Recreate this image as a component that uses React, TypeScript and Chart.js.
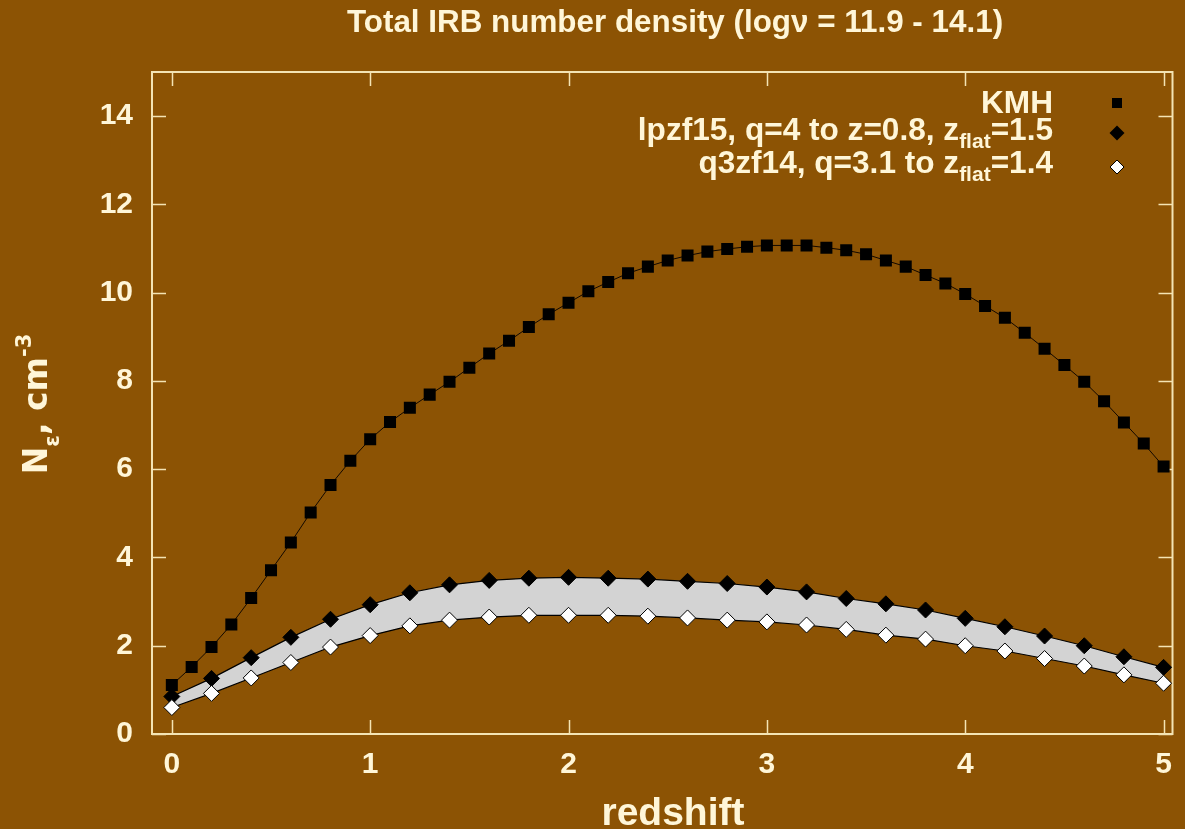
import React, { useEffect, useRef } from "react";
import { Chart, registerables } from "chart.js";

Chart.register(...registerables);

// ---------------- data ----------------
const zKMH = [
  0.0, 0.1, 0.2, 0.3, 0.4, 0.5, 0.6, 0.7, 0.8, 0.9,
  1.0, 1.1, 1.2, 1.3, 1.4, 1.5, 1.6, 1.7, 1.8, 1.9,
  2.0, 2.1, 2.2, 2.3, 2.4, 2.5, 2.6, 2.7, 2.8, 2.9,
  3.0, 3.1, 3.2, 3.3, 3.4, 3.5, 3.6, 3.7, 3.8, 3.9,
  4.0, 4.1, 4.2, 4.3, 4.4, 4.5, 4.6, 4.7, 4.8, 4.9,
  5.0,
];
const kmhValues = [
  1.11, 1.52, 1.97, 2.48, 3.08, 3.71, 4.34, 5.02, 5.64, 6.19,
  6.68, 7.07, 7.39, 7.69, 7.98, 8.30, 8.62, 8.91, 9.22, 9.51,
  9.77, 10.03, 10.24, 10.44, 10.59, 10.73, 10.84, 10.93, 10.99, 11.04,
  11.07, 11.07, 11.07, 11.02, 10.96, 10.87, 10.73, 10.59, 10.40, 10.21,
  9.97, 9.70, 9.43, 9.09, 8.73, 8.36, 7.98, 7.54, 7.06, 6.58,
  6.06,
];
const zModel = [
  0.0, 0.2, 0.4, 0.6, 0.8, 1.0, 1.2, 1.4, 1.6, 1.8,
  2.0, 2.2, 2.4, 2.6, 2.8, 3.0, 3.2, 3.4, 3.6, 3.8,
  4.0, 4.2, 4.4, 4.6, 4.8, 5.0,
];
const lpzf15Values = [
  0.85, 1.26, 1.73, 2.19, 2.60, 2.93, 3.20, 3.38, 3.48, 3.53,
  3.55, 3.53, 3.51, 3.46, 3.41, 3.33, 3.22, 3.07, 2.95, 2.81,
  2.62, 2.43, 2.22, 2.00, 1.75, 1.51,
];
const q3zf14Values = [
  0.60, 0.92, 1.27, 1.62, 1.97, 2.23, 2.45, 2.58, 2.65, 2.69,
  2.69, 2.69, 2.67, 2.63, 2.58, 2.54, 2.47, 2.37, 2.24, 2.15,
  2.00, 1.88, 1.71, 1.54, 1.34, 1.15,
];
const xTickValues = [0, 1, 2, 3, 4, 5];
const yTickValues = [0, 2, 4, 6, 8, 10, 12, 14];

const titleText = "Total IRB number density (log\u03BD = 11.9 - 14.1)";
const xAxisTitle = "redshift";

type Part = { text: string; kind: "normal" | "sub" | "sup" };
const yAxisLabelParts: Part[] = [
  { text: "N", kind: "normal" },
  { text: "\u03B5", kind: "sub" },
  { text: ", cm", kind: "normal" },
  { text: "-3", kind: "sup" },
];
const legendKMH: Part[] = [{ text: "KMH", kind: "normal" }];
const legendLpzf15: Part[] = [
  { text: "lpzf15, q=4 to z=0.8, z", kind: "normal" },
  { text: "flat", kind: "sub" },
  { text: "=1.5", kind: "normal" },
];
const legendQ3zf14: Part[] = [
  { text: "q3zf14, q=3.1 to z", kind: "normal" },
  { text: "flat", kind: "sub" },
  { text: "=1.4", kind: "normal" },
];

// ---------------- styles ----------------
const BG = "#8C5304";
const CREAM = "#FFF6D8";
const FRAME = "#F4E4B4";
const BAND = "#D3D3D3";
const SANS = "'Liberation Sans', Arial, sans-serif";

function drawRich(
  ctx: CanvasRenderingContext2D,
  parts: Part[],
  x: number,
  y: number,
  align: "left" | "center" | "right",
  normalFont: string,
  smallFont: string,
  subOff: number,
  supOff: number
) {
  const widths = parts.map((p) => {
    ctx.font = p.kind === "normal" ? normalFont : smallFont;
    return ctx.measureText(p.text).width;
  });
  const total = widths.reduce((a, b) => a + b, 0);
  let cx = align === "left" ? x : align === "right" ? x - total : x - total / 2;
  ctx.textAlign = "left";
  ctx.textBaseline = "alphabetic";
  parts.forEach((p, i) => {
    ctx.font = p.kind === "normal" ? normalFont : smallFont;
    const dy = p.kind === "sub" ? subOff : p.kind === "sup" ? -supOff : 0;
    ctx.fillText(p.text, cx, y + dy);
    cx += widths[i];
  });
}

const framePlugin = {
  id: "frameTicks",
  beforeDatasetsDraw(chart: any) {
    const { ctx, chartArea } = chart;
    const { left, right, top, bottom } = chartArea;
    const xs = chart.scales.x;
    const ys = chart.scales.y;
    ctx.save();
    ctx.strokeStyle = FRAME;
    ctx.lineWidth = 2;
    ctx.strokeRect(left, top, right - left, bottom - top);
    ctx.lineWidth = 1.5;
    const tl = 14;
    ctx.beginPath();
    xTickValues.forEach((v) => {
      const px = Math.round(xs.getPixelForValue(v)) + 0.5;
      ctx.moveTo(px, bottom);
      ctx.lineTo(px, bottom - tl);
      ctx.moveTo(px, top);
      ctx.lineTo(px, top + tl);
    });
    yTickValues.forEach((v) => {
      const py = Math.round(ys.getPixelForValue(v)) + 0.5;
      ctx.moveTo(left, py);
      ctx.lineTo(left + tl, py);
      ctx.moveTo(right, py);
      ctx.lineTo(right - tl, py);
    });
    ctx.stroke();
    ctx.restore();
  },
};

const textPlugin = {
  id: "richText",
  afterDraw(chart: any) {
    const { ctx } = chart;

    // title and x-axis title
    ctx.save();
    ctx.fillStyle = CREAM;
    ctx.textAlign = "center";
    ctx.textBaseline = "alphabetic";
    ctx.font = `bold 31.4px ${SANS}`;
    ctx.fillText(titleText, 675, 32);
    ctx.font = `bold 39px ${SANS}`;
    ctx.fillText(xAxisTitle, 673, 825);
    ctx.restore();

    // y-axis label (rotated)
    ctx.save();
    ctx.fillStyle = CREAM;
    ctx.translate(47, 404);
    ctx.rotate(-Math.PI / 2);
    drawRich(
      ctx,
      yAxisLabelParts,
      0,
      0,
      "center",
      "bold 33px 'DejaVu Sans'",
      "bold 21px 'DejaVu Sans'",
      12,
      16
    );
    ctx.restore();

    // legend
    ctx.save();
    ctx.fillStyle = CREAM;
    const nf = `bold 31.6px ${SANS}`;
    const sf = `bold 21px ${SANS}`;
    const textRight = 1053;
    const mx = 1117;
    drawRich(ctx, legendKMH, textRight, 113, "right", nf, sf, 8, 10);
    drawRich(ctx, legendLpzf15, textRight, 140, "right", nf, sf, 8, 10);
    drawRich(ctx, legendQ3zf14, textRight, 173, "right", nf, sf, 8, 10);
    // markers
    ctx.fillStyle = "#000";
    ctx.fillRect(mx - 5, 103 - 5, 10, 10);
    const diamond = (cx: number, cy: number, r: number) => {
      ctx.beginPath();
      ctx.moveTo(cx - r, cy);
      ctx.lineTo(cx, cy - r);
      ctx.lineTo(cx + r, cy);
      ctx.lineTo(cx, cy + r);
      ctx.closePath();
    };
    diamond(mx, 133, 7.5);
    ctx.fillStyle = "#000";
    ctx.fill();
    diamond(mx, 167, 7);
    ctx.fillStyle = "#fff";
    ctx.fill();
    ctx.strokeStyle = "#000";
    ctx.lineWidth = 1;
    ctx.stroke();
    ctx.restore();
  },
};

export default function App() {
  const canvasRef = useRef<HTMLCanvasElement | null>(null);

  useEffect(() => {
    const canvas = canvasRef.current;
    if (!canvas) return;
    const chart = new Chart(canvas, {
      type: "line",
      data: {
        datasets: [
          {
            label: "q3zf14",
            data: zModel.map((z, i) => ({ x: z, y: q3zf14Values[i] })),
            borderColor: "#000",
            borderWidth: 1.2,
            pointStyle: "rectRot",
            pointRadius: 8,
            pointBackgroundColor: "#fff",
            pointBorderColor: "#000",
            pointBorderWidth: 1,
            fill: false,
            tension: 0,
          },
          {
            label: "lpzf15",
            data: zModel.map((z, i) => ({ x: z, y: lpzf15Values[i] })),
            borderColor: "#000",
            borderWidth: 1.2,
            backgroundColor: BAND,
            fill: "-1",
            pointStyle: "rectRot",
            pointRadius: 8,
            pointBackgroundColor: "#000",
            pointBorderColor: "#000",
            pointBorderWidth: 1,
            tension: 0,
          },
          {
            label: "KMH",
            data: zKMH.map((z, i) => ({ x: z, y: kmhValues[i] })),
            borderColor: "#120800",
            borderWidth: 1,
            pointStyle: "rect",
            pointRadius: 8.5,
            pointBackgroundColor: "#000",
            pointBorderColor: "#000",
            pointBorderWidth: 0,
            fill: false,
            tension: 0,
          },
        ],
      },
      options: {
        animation: false,
        responsive: false,
        events: [],
        layout: { padding: { left: 0, right: 1, top: 72, bottom: 0 } },
        scales: {
          x: {
            type: "linear",
            min: -0.1,
            max: 5.045,
            afterBuildTicks: (s: any) => {
              s.ticks = xTickValues.map((v) => ({ value: v }));
            },
            afterFit: (s: any) => {
              s.height = 95;
            },
            grid: { display: false, drawTicks: false },
            border: { display: false },
            ticks: {
              color: CREAM,
              padding: 13,
              font: { family: SANS, weight: "bold", size: 30 },
              callback: (v: any) => String(v),
            },
          },
          y: {
            type: "linear",
            min: 0,
            max: 15,
            afterBuildTicks: (s: any) => {
              s.ticks = yTickValues.map((v) => ({ value: v }));
            },
            afterFit: (s: any) => {
              s.width = 152;
            },
            grid: { display: false, drawTicks: false },
            border: { display: false },
            ticks: {
              color: CREAM,
              padding: 19,
              font: { family: SANS, weight: "bold", size: 30 },
              callback: (v: any) => String(v),
            },
          },
        },
        plugins: {
          legend: { display: false },
          tooltip: { enabled: false },
          filler: { drawTime: "beforeDatasetsDraw" },
          title: { display: false },
        },
      } as any,
      plugins: [framePlugin, textPlugin],
    });
    return () => chart.destroy();
  }, []);

  return (
    <div
      style={{
        position: "fixed",
        left: 0,
        top: 0,
        width: 1185,
        height: 829,
        background: BG,
        overflow: "hidden",
      }}
    >
      <canvas
        ref={canvasRef}
        width={1185}
        height={829}
        style={{ display: "block", width: 1185, height: 829 }}
      />
    </div>
  );
}
